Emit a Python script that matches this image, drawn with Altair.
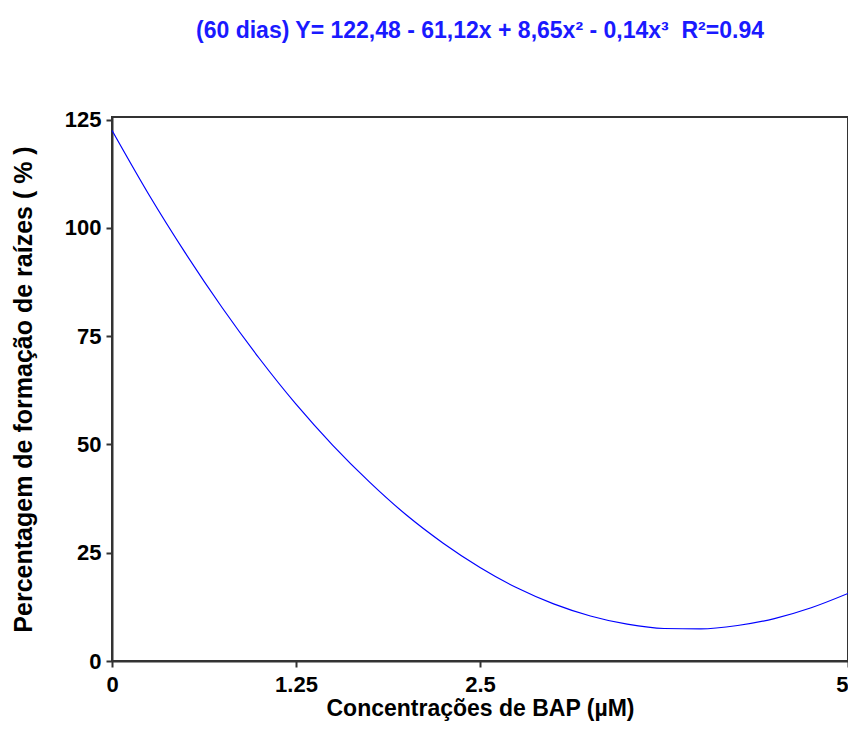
import altair as alt
import pandas as pd

bap = [0, 0.25, 0.5, 0.75, 1.0, 1.25, 1.5, 1.75, 2.0, 2.25, 2.5,
       2.75, 3.0, 3.25, 3.5, 3.75, 4.0, 4.25, 4.5, 4.75, 5.0]
raizes = [122.5, 107.7, 94.1, 81.5, 69.9, 59.3, 49.8, 41.3, 33.7, 27.2, 21.6,
          16.9, 13.2, 10.4, 8.5, 7.5, 7.4, 8.2, 9.8, 12.3, 15.6]
x_ticks = [0, 1.25, 2.5, 5]
y_ticks = [0, 25, 50, 75, 100, 125]

df = pd.DataFrame({"x": bap, "y": raizes})

chart = alt.Chart(df).mark_line(color="#0000FF", strokeWidth=1.2, interpolate="monotone").encode(
    x=alt.X("x:Q", scale=alt.Scale(domain=[0, 5], nice=False),
            axis=alt.Axis(values=x_ticks, format=".2~f", title="Concentrações de BAP (µM)",
                          labelAlign={"condition": {"test": "datum.value === 5", "value": "right"},
                                      "value": "center"},
                          labelPadding=7, titlePadding=2, titleFontSize=23)),
    y=alt.Y("y:Q", scale=alt.Scale(domain=[0, 125.6], nice=False),
            axis=alt.Axis(values=y_ticks, title="Percentagem de formação de raízes ( % )",
                          labelPadding=5, titlePadding=28, titleFontSize=25)),
).properties(
    width=736, height=544,
    title=alt.TitleParams("(60 dias) Y= 122,48 - 61,12x + 8,65x² - 0,14x³\u00a0\u00a0R²=0.94",
                          color="#1a1aff", fontSize=23, font="Liberation Sans",
                          fontWeight="bold", offset=66, anchor="middle"),
    autosize=alt.AutoSizeParams(type="none"),
    padding={"left": 104, "top": 109, "right": 0, "bottom": 60},
).configure_view(
    stroke="#333333", strokeWidth=2
).configure_axis(
    domainColor="#333333", domainWidth=2, tickColor="#333333", tickWidth=2,
    tickSize=6, grid=False,
    labelFont="Liberation Sans", labelFontSize=22, labelFontWeight="bold",
    labelColor="#000000",
    titleFont="Liberation Sans", titleFontWeight="bold",
    titleColor="#000000",
).configure_axisX(
    labelFlush=False
)

chart.save("out.html", embed_options={"renderer": "svg", "actions": False})
